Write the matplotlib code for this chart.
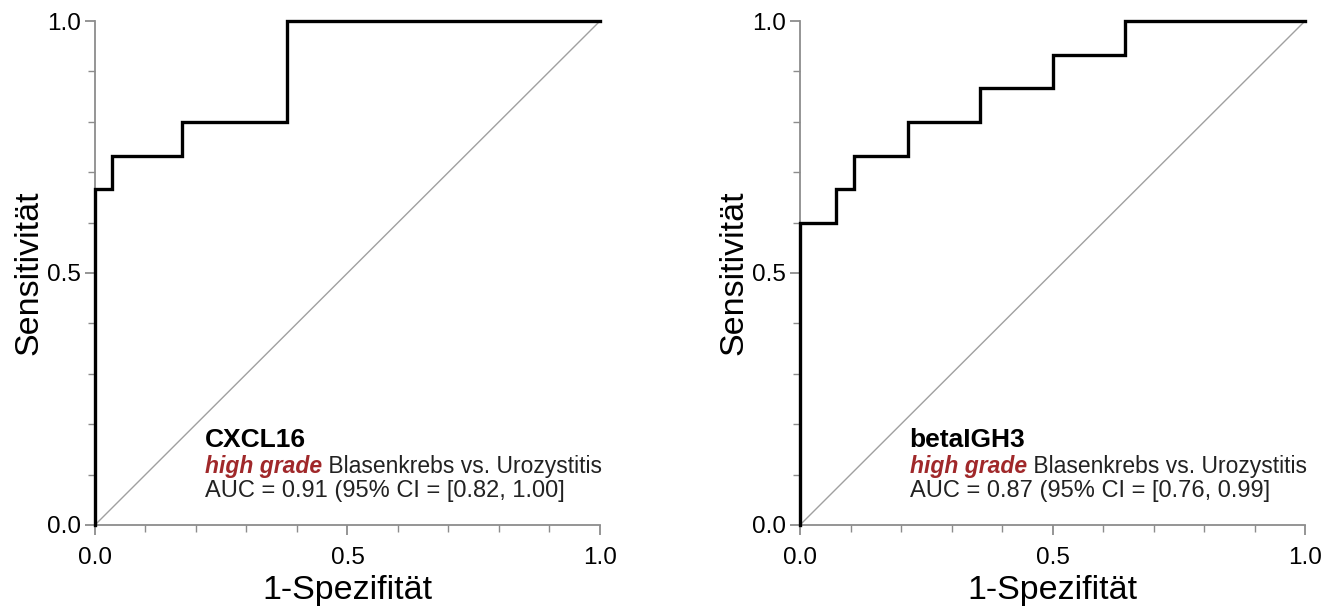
import matplotlib.pyplot as plt
from matplotlib.ticker import MultipleLocator

plt.rcParams['font.family'] = ['Liberation Sans', 'DejaVu Sans']

# ROC step curves
cxcl16_fpr = [0.0, 0.0, 0.034, 0.034, 0.172, 0.172, 0.38, 0.38, 1.0]
cxcl16_tpr = [0.0, 0.667, 0.667, 0.733, 0.733, 0.8, 0.8, 1.0, 1.0]

beta_fpr = [0.0, 0.0, 0.071, 0.071, 0.107, 0.107, 0.214, 0.214,
            0.357, 0.357, 0.5, 0.5, 0.643, 0.643, 1.0]
beta_tpr = [0.0, 0.6, 0.6, 0.667, 0.667, 0.733, 0.733, 0.8,
            0.8, 0.867, 0.867, 0.933, 0.933, 1.0, 1.0]

names = ['CXCL16', 'betaIGH3']
auc_texts = ['AUC = 0.91 (95% CI = [0.82, 1.00]',
             'AUC = 0.87 (95% CI = [0.76, 0.99]']
ticks = [0.0, 0.5, 1.0]
tick_labels = ['0.0', '0.5', '1.0']

fig = plt.figure(figsize=(13.23, 6.09), dpi=100)
ax1 = fig.add_axes([0.0718, 0.138, 0.3817, 0.8275])
ax2 = fig.add_axes([0.6047, 0.138, 0.3817, 0.8275])

curves = [(cxcl16_fpr, cxcl16_tpr), (beta_fpr, beta_tpr)]

for ax, (fpr, tpr), name, auc in zip([ax1, ax2], curves, names, auc_texts):
    ax.plot([0, 1], [0, 1], color='#a0a0a0', linewidth=1.0, zorder=2)
    ax.plot(fpr, tpr, color='black', linewidth=2.4, clip_on=False, zorder=3,
            solid_joinstyle='miter')
    ax.set_xlim(0, 1)
    ax.set_ylim(0, 1)

    ax.spines['right'].set_visible(False)
    ax.spines['top'].set_visible(False)
    for s in ['left', 'bottom']:
        ax.spines[s].set_color('#8c8c8c')
        ax.spines[s].set_linewidth(1.3)

    ax.set_xticks(ticks)
    ax.set_xticklabels(tick_labels)
    ax.set_yticks(ticks)
    ax.set_yticklabels(tick_labels)
    ax.xaxis.set_minor_locator(MultipleLocator(0.1))
    ax.yaxis.set_minor_locator(MultipleLocator(0.1))
    ax.tick_params(which='major', length=7, width=1.3, color='#8c8c8c',
                   labelsize=17.5)
    ax.tick_params(which='minor', length=5, width=1.0, color='#8c8c8c')
    ax.tick_params(axis='x', which='major', pad=9)
    ax.tick_params(axis='y', which='major', pad=3)

    ax.set_xlabel('1-Spezifität', fontsize=24.5, labelpad=4)
    ax.set_ylabel('Sensitivität', fontsize=24.5, labelpad=2)

    ax.text(0.217, 0.155, name, fontsize=19, fontweight='bold',
            transform=ax.transAxes, va='baseline')
    hg = ax.text(0.217, 0.103, 'high grade', fontsize=16.5, fontweight='bold',
                 fontstyle='italic', color='#a0282a',
                 transform=ax.transAxes, va='baseline')
    ax.annotate(' Blasenkrebs vs. Urozystitis', xy=(1, 0), xycoords=hg,
                fontsize=16.5, color='#222222', va='bottom', ha='left')
    ax.text(0.217, 0.056, auc, fontsize=17, color='#222222',
            transform=ax.transAxes, va='baseline')

fig.savefig('out.png', dpi=100)
